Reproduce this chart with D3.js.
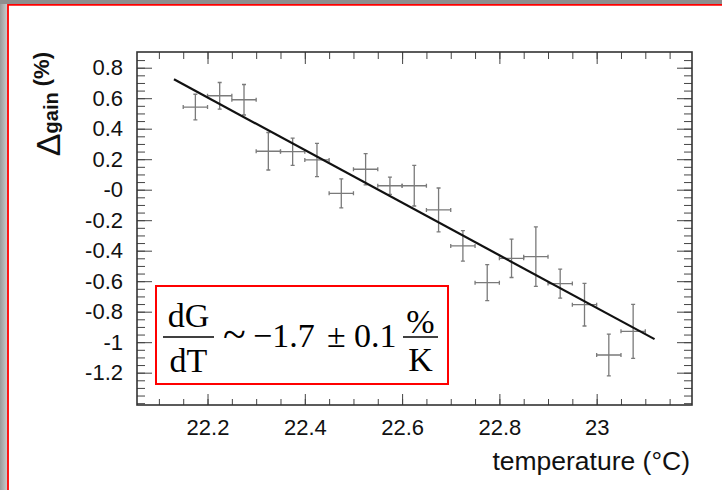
<!DOCTYPE html>
<html>
<head>
<meta charset="utf-8">
<script src="https://cdn.jsdelivr.net/npm/d3@7/dist/d3.min.js"></script>
<style>
  body { margin: 0; background: #fff; }
  svg { display: block; }
  .tick text { font-family: "Liberation Sans", Arial, sans-serif; font-size: 22px; fill: #111; }
  .tick line { stroke: #444; stroke-width: 1; }
  .serif { font-family: "Liberation Serif", "Times New Roman", serif; font-size: 34px; fill: #000; }
</style>
</head>
<body>
<svg width="722" height="490"></svg>
<script>
// measured temperature bins (°C) and gain change (%)
const temps   = [22.175, 22.225, 22.275, 22.325, 22.375, 22.425, 22.475, 22.525, 22.575, 22.625,
                 22.675, 22.725, 22.775, 22.825, 22.875, 22.925, 22.975, 23.025, 23.075];
const tempErr = [0.025, 0.025, 0.025, 0.025, 0.025, 0.025, 0.025, 0.025, 0.025, 0.025,
                 0.025, 0.025, 0.025, 0.025, 0.025, 0.025, 0.025, 0.025, 0.025];
const gain    = [0.542, 0.616, 0.590, 0.252, 0.249, 0.195, -0.024, 0.134, 0.026, 0.026,
                 -0.133, -0.369, -0.610, -0.450, -0.439, -0.616, -0.754, -1.084, -0.929];
const gainErr = [0.084, 0.087, 0.100, 0.123, 0.089, 0.109, 0.095, 0.103, 0.057, 0.133,
                 0.144, 0.100, 0.118, 0.126, 0.195, 0.095, 0.140, 0.137, 0.177];

// linear fit end points
const fitT = [22.131, 23.119];
const fitG = [0.724, -0.980];

const xTicks = [22.2, 22.4, 22.6, 22.8, 23];
const xTickLabels = ['22.2', '22.4', '22.6', '22.8', '23'];
const yTicks = [0.8, 0.6, 0.4, 0.2, 0, -0.2, -0.4, -0.6, -0.8, -1, -1.2];
const yTickLabels = ['0.8', '0.6', '0.4', '0.2', '-0', '-0.2', '-0.4', '-0.6', '-0.8', '-1', '-1.2'];

const svg = d3.select('svg');
const width = +svg.attr('width');
const height = +svg.attr('height');

// canvas frame (grey border, red pad outline)
const defs = svg.append('defs');
const grad = defs.append('linearGradient').attr('id', 'leftEdge');
grad.append('stop').attr('offset', '0%').attr('stop-color', '#9a9a9a');
grad.append('stop').attr('offset', '100%').attr('stop-color', '#d0d0d0');
svg.append('rect').attr('width', width).attr('height', height).attr('fill', '#8e8e8e');
svg.append('rect').attr('y', 4).attr('width', 8).attr('height', height).attr('fill', 'url(#leftEdge)');
svg.append('rect').attr('x', 8).attr('y', 5).attr('width', width - 8).attr('height', height - 5).attr('fill', '#fff');
svg.append('path').attr('d', `M8,${height}V4.8H${width}`)
    .attr('fill', 'none').attr('stroke', '#f00').attr('stroke-width', 1.8);

const margin = { top: 52, right: 30, bottom: 85, left: 137 };
const innerWidth = width - margin.left - margin.right;
const innerHeight = height - margin.top - margin.bottom;

const xScale = d3.scaleLinear().domain([22.055, 23.196]).range([0, innerWidth]);
const yScale = d3.scaleLinear().domain([-1.412, 0.903]).range([innerHeight, 0]);

const xMinor = d3.range(22.1, 23.19, 0.05).filter(v => xScale(v) > 1 && xScale(v) < innerWidth - 1);
const yMinor = d3.range(-1.4, 0.91, 0.05).filter(v => yScale(v) > 1 && yScale(v) < innerHeight - 1);

const g = svg.append('g').attr('transform', `translate(${margin.left},${margin.top})`);

const axisFmt = (vals, labels) => v => labels[vals.findIndex(t => Math.abs(t - v) < 1e-9)];

// minor ticks on all four sides
const minorAxes = [
  [d3.axisBottom(xScale).tickValues(xMinor).tickSize(-6), `translate(0,${innerHeight})`],
  [d3.axisTop(xScale).tickValues(xMinor).tickSize(-7), 'translate(0,0)'],
  [d3.axisLeft(yScale).tickValues(yMinor).tickSize(-8), 'translate(0,0)'],
  [d3.axisRight(yScale).tickValues(yMinor).tickSize(-8), `translate(${innerWidth},0)`]
];
minorAxes.forEach(([ax, tr]) => {
  const a = g.append('g').attr('transform', tr).call(ax);
  a.select('.domain').remove();
  a.selectAll('text').remove();
});

// major ticks
const xAxisG = g.append('g').attr('transform', `translate(0,${innerHeight})`)
    .call(d3.axisBottom(xScale).tickValues(xTicks).tickSize(-11).tickPadding(14)
      .tickFormat(axisFmt(xTicks, xTickLabels)));
xAxisG.select('.domain').remove();

const yAxisG = g.append('g')
    .call(d3.axisLeft(yScale).tickValues(yTicks).tickSize(-15).tickPadding(14)
      .tickFormat(axisFmt(yTicks, yTickLabels)));
yAxisG.select('.domain').remove();

const topAx = g.append('g').call(d3.axisTop(xScale).tickValues(xTicks).tickSize(-12));
topAx.select('.domain').remove();
topAx.selectAll('text').remove();
const rightAx = g.append('g').attr('transform', `translate(${innerWidth},0)`)
    .call(d3.axisRight(yScale).tickValues(yTicks).tickSize(-15));
rightAx.select('.domain').remove();
rightAx.selectAll('text').remove();

// plot frame
g.append('rect').attr('width', innerWidth).attr('height', innerHeight)
    .attr('fill', 'none').attr('stroke', '#333').attr('stroke-width', 1.6);

// data with error bars
const data = temps.map((t, i) => ({ t, dt: tempErr[i], v: gain[i], dv: gainErr[i] }));
const cap = 2;
const pts = g.append('g').attr('stroke', '#7a7a7a').attr('stroke-width', 1.3).attr('fill', 'none');
pts.selectAll('path').data(data).enter().append('path')
    .attr('d', d => {
      const x = xScale(d.t), y = yScale(d.v);
      const x0 = xScale(d.t - d.dt), x1 = xScale(d.t + d.dt);
      const y0 = yScale(d.v - d.dv), y1 = yScale(d.v + d.dv);
      return `M${x0},${y}H${x1}M${x},${y0}V${y1}` +
        `M${x0},${y - cap}V${y + cap}M${x1},${y - cap}V${y + cap}` +
        `M${x - cap},${y0}H${x + cap}M${x - cap},${y1}H${x + cap}`;
    });

// fit line
const line = d3.line().x(d => xScale(d[0])).y(d => yScale(d[1]));
g.append('path').datum(fitT.map((t, i) => [t, fitG[i]]))
    .attr('d', line).attr('fill', 'none').attr('stroke', '#111').attr('stroke-width', 2.2);

// axis titles
svg.append('text')
    .attr('x', margin.left + innerWidth - 2).attr('y', 470)
    .attr('text-anchor', 'end')
    .style('font-family', '"Liberation Sans", Arial, sans-serif').style('font-size', '26.5px')
    .attr('fill', '#111')
    .text('temperature (°C)');

const yTitle = svg.append('text')
    .attr('transform', `translate(48.5,${margin.top}) rotate(-90)`)
    .attr('text-anchor', 'end')
    .style('font-family', '"Liberation Sans", Arial, sans-serif').style('font-weight', 'bold')
    .attr('fill', '#111');
yTitle.append('tspan').attr('dy', 11.5).style('font-size', '34px').style('font-weight', 'normal').text('Δ');
yTitle.append('tspan').attr('dy', -2).style('font-size', '20px').text('gain');
yTitle.append('tspan').attr('dy', -9.5).style('font-size', '22px').text(' (%)');

// fit result box
const box = svg.append('g');
box.append('rect').attr('x', 156).attr('y', 286).attr('width', 292).attr('height', 98)
    .attr('fill', '#fff').attr('stroke', '#f00').attr('stroke-width', 2);
const fr = (cx, x0, x1, num, den, numY, denY) => {
  box.append('text').attr('class', 'serif').attr('x', cx).attr('y', numY).attr('text-anchor', 'middle').text(num);
  box.append('line').attr('x1', x0).attr('x2', x1).attr('y1', 337).attr('y2', 337)
      .attr('stroke', '#000').attr('stroke-width', 1.6);
  box.append('text').attr('class', 'serif').attr('x', cx).attr('y', denY).attr('text-anchor', 'middle').text(den);
};
fr(188.5, 163, 214, 'dG', 'dT', 327, 372);
fr(420.5, 403, 438, '%', 'K', 333, 371);
box.append('text').attr('class', 'serif').attr('x', 223).attr('y', 348).style('font-size', '42px').text('~');
[['\u22121.7', 253], ['\u00b1', 327], ['0.1', 354]].forEach(([s, x]) => {
  box.append('text').attr('class', 'serif').attr('x', x).attr('y', 347).text(s);
});
</script>
</body>
</html>
